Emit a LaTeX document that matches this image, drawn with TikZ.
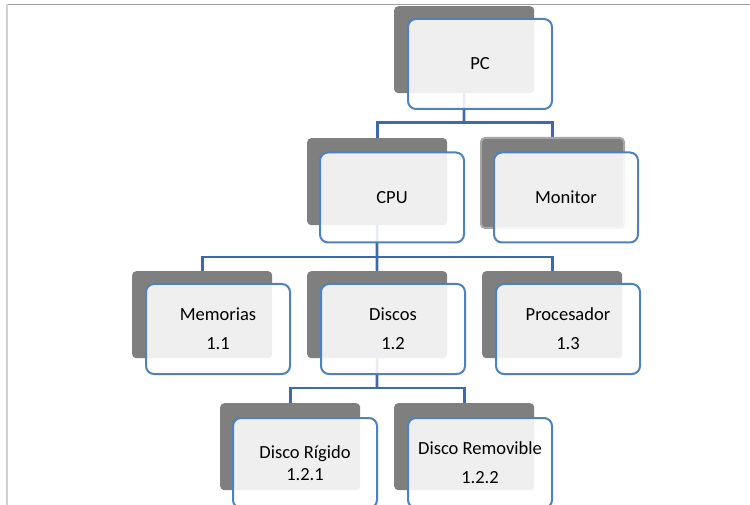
\documentclass[tikz,border=0pt]{standalone}
\usepackage{fontspec}
\setmainfont{Carlito}
\definecolor{shgray}{RGB}{127,127,127}
\definecolor{shedge}{RGB}{166,166,166}
\definecolor{boxblue}{RGB}{79,129,189}
\definecolor{connblue}{RGB}{62,106,170}
\pgfdeclarelayer{bg}
\pgfsetlayers{bg,main}
\begin{document}
\begin{tikzpicture}[x=1pt,y=-1pt,
 shadowbox/.style={fill=shgray, rounded corners=4pt, inner sep=0pt, minimum width=140pt, minimum height=87pt, anchor=north west},
 frontbox/.style={draw=boxblue, line width=2pt, fill=white, fill opacity=0.88, text opacity=1, rounded corners=8pt, minimum width=144pt, minimum height=90pt, inner sep=0pt, align=center, font=\fontsize{18.5}{22}\selectfont},
 conn/.style={draw=connblue, line width=2.6pt}]
\useasboundingbox (0,0) rectangle (750,505);
\clip (0,0) rectangle (750,505);
% frame
\draw[gray!75, line width=1.2pt] (6,4.5) -- (750,4.5);
\draw[gray!35, line width=1.6pt] (6.8,4) -- (6.8,505);
% shadows
\node[shadowbox] (pcS) at (394,6) {};
\node[shadowbox] (cpuS) at (307,138) {};
\node[shadowbox, draw=shedge, line width=2pt, minimum width=143pt, minimum height=90pt] (monS) at (480,137) {};
\node[shadowbox] (memS) at (132,271) {};
\node[shadowbox] (disS) at (307,271) {};
\node[shadowbox] (proS) at (482,271) {};
\node[shadowbox] (rigS) at (220,403) {};
\node[shadowbox] (remS) at (394,403) {};
% front boxes
\node[frontbox] (pc) at (480,64) {PC};
\node[frontbox] (cpu) at (392,197.5) {CPU};
\node[frontbox] (mon) at (566,197.5) {Monitor};
\node[frontbox] (mem) at (218,329) {Memorias\\[7pt]1.1};
\node[frontbox] (dis) at (393,329) {Discos\\[7pt]1.2};
\node[frontbox] (pro) at (568,329) {Procesador\\[7pt]1.3};
\node[frontbox] (rig) at (305,463) {Disco Rígido\\1.2.1};
\node[frontbox] (rem) at (480,463) {Disco Removible\\[7pt]1.2.2};
% connectors, beneath everything
\coordinate (e1) at (464,122.5);
\coordinate (e2) at (377,257);
\coordinate (e3) at (377,388);
\begin{pgfonlayer}{bg}
\draw[conn] (pcS.center) -- (e1);
\draw[conn] (cpuS.center) |- (e1) -| (monS.center);
\draw[conn] (cpuS.center) -- (e2);
\draw[conn] (memS.center) |- (e2) -| (proS.center);
\draw[conn] (e2) -- (disS.center);
\draw[conn] (disS.center) -- (e3);
\draw[conn] (rigS.center) |- (e3) -| (remS.center);
\end{pgfonlayer}
\end{tikzpicture}
\end{document}
